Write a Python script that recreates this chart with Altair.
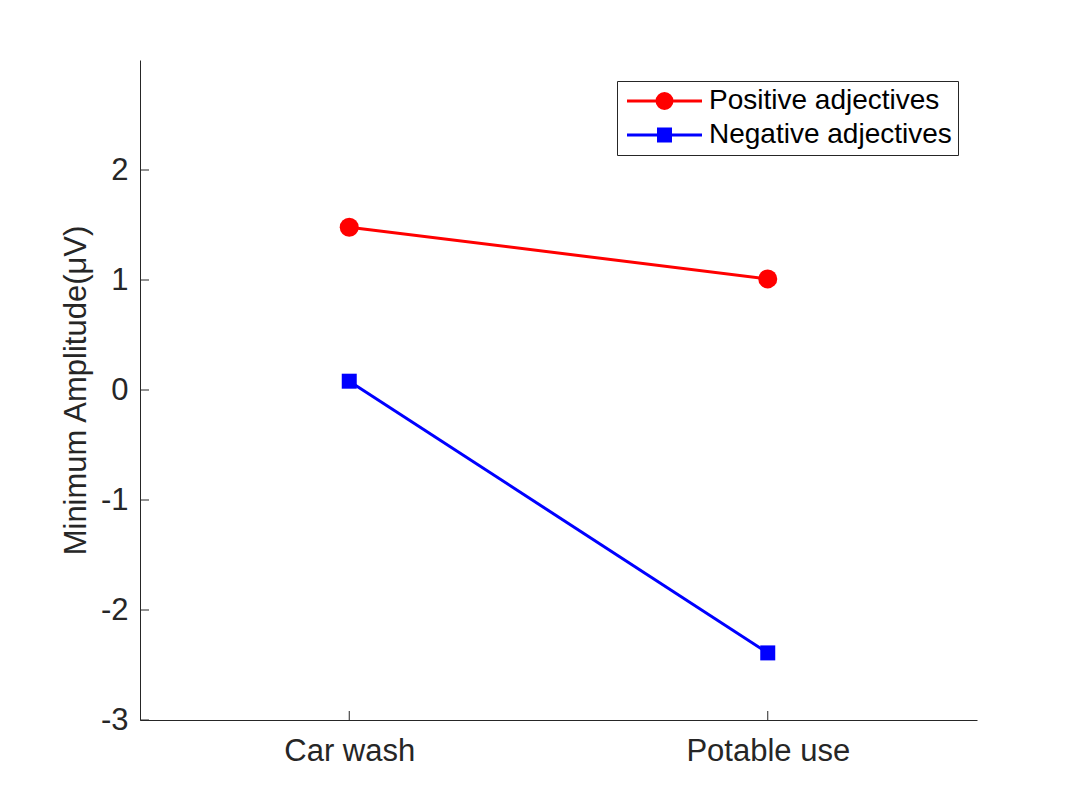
import altair as alt
import pandas as pd

# ---- data ----
categories = ["Car wash", "Potable use"]
positions = [1, 2]
positive = [1.48, 1.01]
negative = [0.08, -2.39]
series_names = ["Positive adjectives", "Negative adjectives"]
y_ticks = [-3, -2, -1, 0, 1, 2]

# ---- styles ----
series_colors = ["#ff0000", "#0000ff"]
series_shapes = ["circle", "square"]
series_sizes = [361, 225]
legend_paths = [
    "M-1.0,0H6.5M3.5,0A0.75,0.75,0,1,1,2.0,0A0.75,0.75,0,1,1,3.5,0Z",
    "M-1.0,0H6.5M2.15,-0.6H3.35V0.6H2.15Z",
]
FONT = "Liberation Sans"
AX = "#262626"
W, H = 837, 660

rows = []
for name, vals in zip(series_names, [positive, negative]):
    for p, c, v in zip(positions, categories, vals):
        rows.append({"series": name, "pos": p, "category": c, "value": v})
df = pd.DataFrame(rows)

label_expr = " : ".join(
    f"datum.value == {p} ? '{c}'" for p, c in zip(positions, categories)
) + " : ''"

x_axis = alt.Axis(values=positions, labelExpr=label_expr, title=None, grid=False,
                  ticks=False, tickSize=0, labelFontSize=31, labelFont=FONT,
                  labelColor=AX, labelPadding=16, domainColor=AX, domainWidth=1,
                  labelFlush=False)
y_axis = alt.Axis(values=y_ticks, labelExpr="'' + datum.value",
                  title="Minimum Amplitude(μV)", grid=False,
                  ticks=False, tickSize=0, labelFontSize=31, labelFont=FONT,
                  labelColor=AX, labelPadding=12, domainColor=AX, domainWidth=1,
                  titleFontSize=31, titleFont=FONT, titleColor=AX,
                  titleFontWeight="normal", titlePadding=8, labelFlush=False)

xscale = alt.Scale(domain=[0.5, 2.5], nice=False, zero=False)
yscale = alt.Scale(domain=[-3, 3], nice=False, zero=False)

X = alt.X("pos:Q", scale=xscale, axis=x_axis)
Y = alt.Y("value:Q", scale=yscale, axis=y_axis)

layers = []
for name, col, shp, sz in zip(series_names, series_colors, series_shapes, series_sizes):
    base = alt.Chart(df).transform_filter(alt.datum.series == name)
    layers.append(base.mark_line(color=col, strokeWidth=3).encode(x=X, y=Y))
    layers.append(base.mark_point(shape=shp, size=sz, filled=True, color=col,
                                  opacity=1, strokeWidth=0).encode(x=X, y=Y))

leg = alt.Legend(title=None, orient="none", legendX=477, legendY=21,
                 symbolSize=400, symbolStrokeWidth=3, symbolOpacity=1,
                 labelFontSize=28, labelFont=FONT, labelColor="black",
                 labelOffset=58, labelLimit=0, padding=6, rowPadding=6,
                 strokeColor=AX, fillColor="white")

legend_layer = alt.Chart(df).transform_filter("false").mark_point(
    filled=True, opacity=1).encode(
    x=X, y=Y,
    color=alt.Color("series:N", scale=alt.Scale(domain=series_names, range=series_colors), legend=leg),
    stroke=alt.Stroke("series:N", scale=alt.Scale(domain=series_names, range=series_colors), legend=leg),
    shape=alt.Shape("series:N", scale=alt.Scale(domain=series_names, range=legend_paths), legend=leg),
)
layers.append(legend_layer)

ytick_layer = alt.Chart(pd.DataFrame({"value": y_ticks})).mark_rule(
    color=AX, strokeWidth=1).encode(y=Y, x=alt.value(0), x2=alt.value(9))
xtick_layer = alt.Chart(pd.DataFrame({"pos": positions})).mark_rule(
    color=AX, strokeWidth=1).encode(x=X, y=alt.value(H), y2=alt.value(H - 9))
layers += [ytick_layer, xtick_layer]

chart = alt.layer(*layers).properties(
    width=W, height=H,
    autosize=alt.AutoSizeParams(type="none"),
    padding={"left": 140, "top": 60, "right": 103, "bottom": 90},
    background="white",
).configure_view(stroke=None)

chart.save("out.html", embed_options={"renderer": "svg", "actions": False})
